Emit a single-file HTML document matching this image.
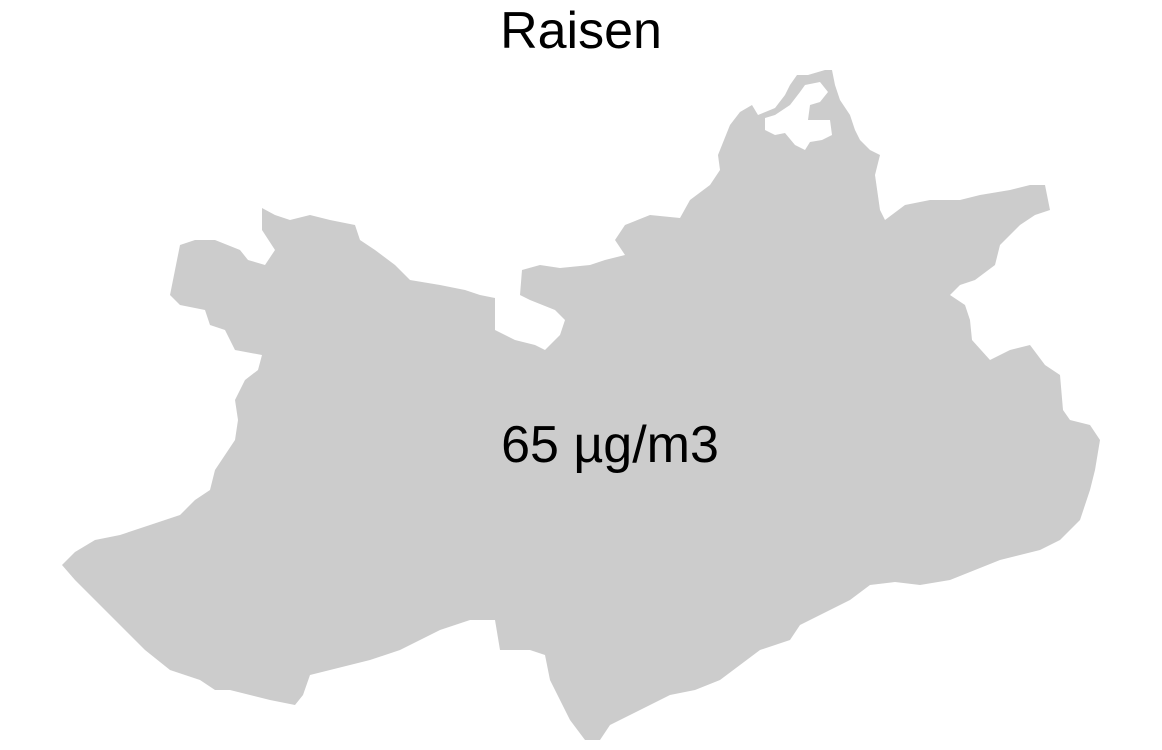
<!DOCTYPE html>
<html><head><meta charset="utf-8"><style>
html,body{margin:0;padding:0;background:#fff;}
svg{display:block;}
text{font-family:"Liberation Sans",sans-serif;fill:#000;}
</style></head><body>
<svg width="1162" height="750" viewBox="0 0 1162 750">
<text x="581" y="48" font-size="52" text-anchor="middle">Raisen</text>
<path fill="#cccccc" d="M62,565 L75,552 95,540 120,535 150,525 180,515 195,500 210,490 215,470 225,455 235,440 238,420 235,400 245,380 258,370 262,355 235,350 225,330 210,325 205,310 180,305 170,295 175,270 180,245 195,240 215,240 240,250 248,260 265,265 275,250 262,230 262,208 275,215 290,220 310,215 330,220 355,225 360,240 375,250 395,265 410,280 440,285 465,290 480,295 495,298 495,315 495,330 515,340 535,345 545,350 560,335 565,320 555,310 530,300 520,295 522,270 540,265 560,268 590,265 605,260 625,255 615,240 625,225 650,215 680,218 690,200 710,185 720,170 718,155 730,125 740,112 752,105 758,115 775,108 785,95 790,85 797,75 808,75 825,70 832,70 835,85 840,100 850,115 855,130 860,140 870,150 880,155 875,175 880,210 885,220 905,205 930,200 960,200 980,195 1010,190 1030,185 1045,185 1050,210 1035,215 1020,225 1000,245 995,265 975,280 960,285 950,295 965,305 970,320 972,340 990,360 1010,350 1030,345 1045,365 1060,375 1063,410 1070,420 1090,425 1100,440 1095,470 1090,490 1080,520 1070,530 1060,540 1040,550 1020,555 1000,560 975,570 950,580 920,585 895,582 870,585 850,600 820,615 800,625 790,640 760,650 740,665 720,680 695,690 670,695 650,705 630,715 610,725 600,740 585,740 570,720 560,700 550,680 545,655 530,650 500,650 495,620 470,620 440,630 420,640 400,650 370,660 350,665 330,670 310,675 303,695 295,705 270,700 250,695 230,690 215,690 200,680 170,670 145,650 125,630 105,610 90,595 75,580 Z"/>
<path fill="#ffffff" d="M765,118 L775,115 790,105 800,92 805,85 820,82 828,92 820,102 810,105 808,120 830,120 832,135 822,140 810,142 805,150 795,145 785,133 775,135 765,130 Z"/>
<text x="610" y="462" font-size="52" text-anchor="middle">65 µg/m3</text>
</svg>
</body></html>
